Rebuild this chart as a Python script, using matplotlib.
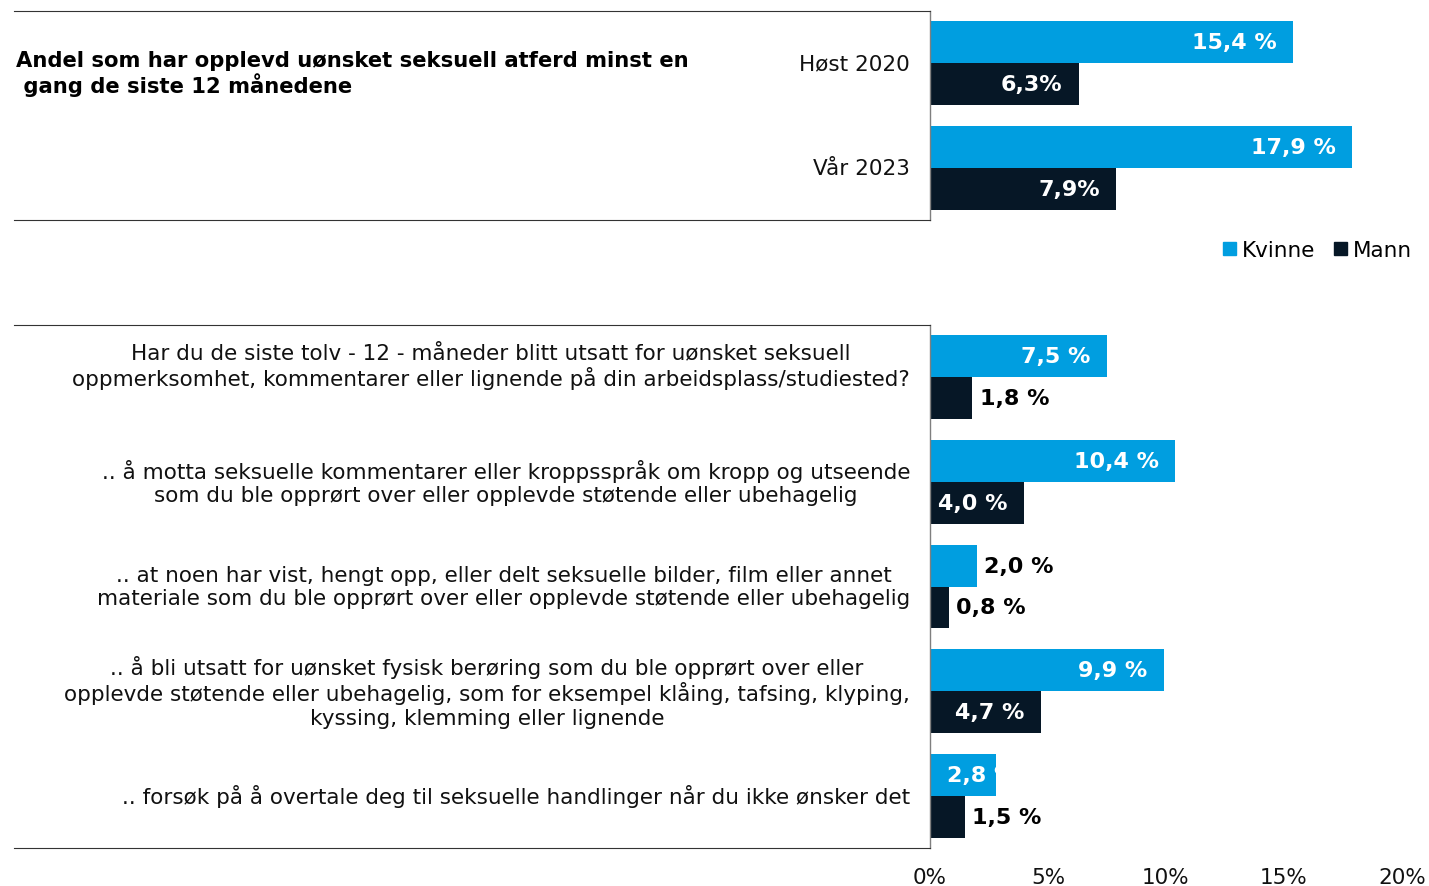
import matplotlib
matplotlib.use('Agg')
import matplotlib.pyplot as plt
from matplotlib.lines import Line2D
from matplotlib.patches import Patch
import matplotlib.transforms as mtransforms

# data
top_labels = ['Høst 2020', 'Vår 2023']
top_kvinne = [15.4, 17.9]
top_mann = [6.3, 7.9]
top_kvinne_txt = ['15,4 %', '17,9 %']
top_mann_txt = ['6,3%', '7,9%']

bottom_labels = [
    'Har du de siste tolv - 12 - måneder blitt utsatt for uønsket seksuell\noppmerksomhet, kommentarer eller lignende på din arbeidsplass/studiested?\n',
    '.. å motta seksuelle kommentarer eller kroppsspråk om kropp og utseende\nsom du ble opprørt over eller opplevde støtende eller ubehagelig',
    '.. at noen har vist, hengt opp, eller delt seksuelle bilder, film eller annet\nmateriale som du ble opprørt over eller opplevde støtende eller ubehagelig',
    '.. å bli utsatt for uønsket fysisk berøring som du ble opprørt over eller\nopplevde støtende eller ubehagelig, som for eksempel klåing, tafsing, klyping,\nkyssing, klemming eller lignende',
    '.. forsøk på å overtale deg til seksuelle handlinger når du ikke ønsker det',
]
bottom_kvinne = [7.5, 10.4, 2.0, 9.9, 2.8]
bottom_mann = [1.8, 4.0, 0.8, 4.7, 1.5]
bottom_kvinne_txt = ['7,5 %', '10,4 %', '2,0 %', '9,9 %', '2,8 %']
bottom_mann_txt = ['1,8 %', '4,0 %', '0,8 %', '4,7 %', '1,5 %']

title = 'Andel som har opplevd uønsket seksuell atferd minst en\n gang de siste 12 månedene'
xticks = [0, 5, 10, 15, 20]
xticklabels = ['0%', '5%', '10%', '15%', '20%']

BLUE = '#009ee0'
DARK = '#061726'
FS = 15.5
VFS = 16

plt.rcParams['font.family'] = ['DejaVu Sans']

W, H = 1429, 887
fig = plt.figure(figsize=(W / 100, H / 100), dpi=100)
ax1 = fig.add_axes([930 / W, 1 - 221 / H, 472 / W, 209 / H])
ax2 = fig.add_axes([930 / W, 1 - 849 / H, 472 / W, 523 / H])


def draw(ax, labels, kv, mn, kv_txt, mn_txt):
    n = len(labels)
    ys = list(range(n))
    bk = ax.barh([y - 0.2 for y in ys], kv, height=0.4, color=BLUE)
    bm = ax.barh([y + 0.2 for y in ys], mn, height=0.4, color=DARK)
    ax.set_xlim(0, 20)
    ax.set_ylim(n - 0.5, -0.5)
    for s in ['top', 'right', 'bottom']:
        ax.spines[s].set_visible(False)
    ax.spines['left'].set_color('#7f7f7f')
    ax.spines['left'].set_linewidth(1)
    ax.set_yticks([])
    tr = mtransforms.blended_transform_factory(ax.transAxes, ax.transData)
    for y, lab in zip(ys, labels):
        ax.text(-20 / 472, y, lab, transform=tr, ha='right', va='center',
                multialignment='center', fontsize=FS, color='#111111')
    for bars, vals, txts in [(bk, kv, kv_txt), (bm, mn, mn_txt)]:
        for bar, v, t in zip(bars, vals, txts):
            yc = bar.get_y() + bar.get_height() / 2
            if v >= 4:
                ax.text(v - 0.7, yc, t, ha='right', va='center', color='white',
                        fontsize=VFS, fontweight='bold')
            elif v >= 2.5:
                txt = ax.text(0.72, yc, t, ha='left', va='center', color='white',
                              fontsize=VFS, fontweight='bold')
                txt.set_clip_path(bar)
            else:
                ax.text(v + 0.3, yc, t, ha='left', va='center', color='black',
                        fontsize=VFS, fontweight='bold')


draw(ax1, top_labels, top_kvinne, top_mann, top_kvinne_txt, top_mann_txt)
draw(ax2, bottom_labels, bottom_kvinne, bottom_mann, bottom_kvinne_txt, bottom_mann_txt)

ax1.set_xticks([])
ax2.set_xticks(xticks)
ax2.set_xticklabels(xticklabels, fontsize=FS, color='#111111')
ax2.tick_params(axis='x', length=0, pad=14)

# table-like horizontal rules
for ypx in [12, 221, 326, 849]:
    fig.add_artist(Line2D([14 / W, 930 / W], [1 - ypx / H, 1 - ypx / H],
                          transform=fig.transFigure, color='#333333', lw=0.8))

fig.text(16 / W, 1 - 74 / H, title, ha='left', va='center', fontsize=15.2,
         fontweight='bold', color='black', linespacing=1.15)

handles = [Patch(color=BLUE), Patch(color=DARK)]
fig.legend(handles, ['Kvinne', 'Mann'], loc='center right',
           bbox_to_anchor=(1431 / W, 1 - 251 / H), ncol=2, frameon=False,
           fontsize=FS, handlelength=0.6, handleheight=0.6,
           handletextpad=0.25, columnspacing=0.9)

fig.savefig('out.png', dpi=100)
